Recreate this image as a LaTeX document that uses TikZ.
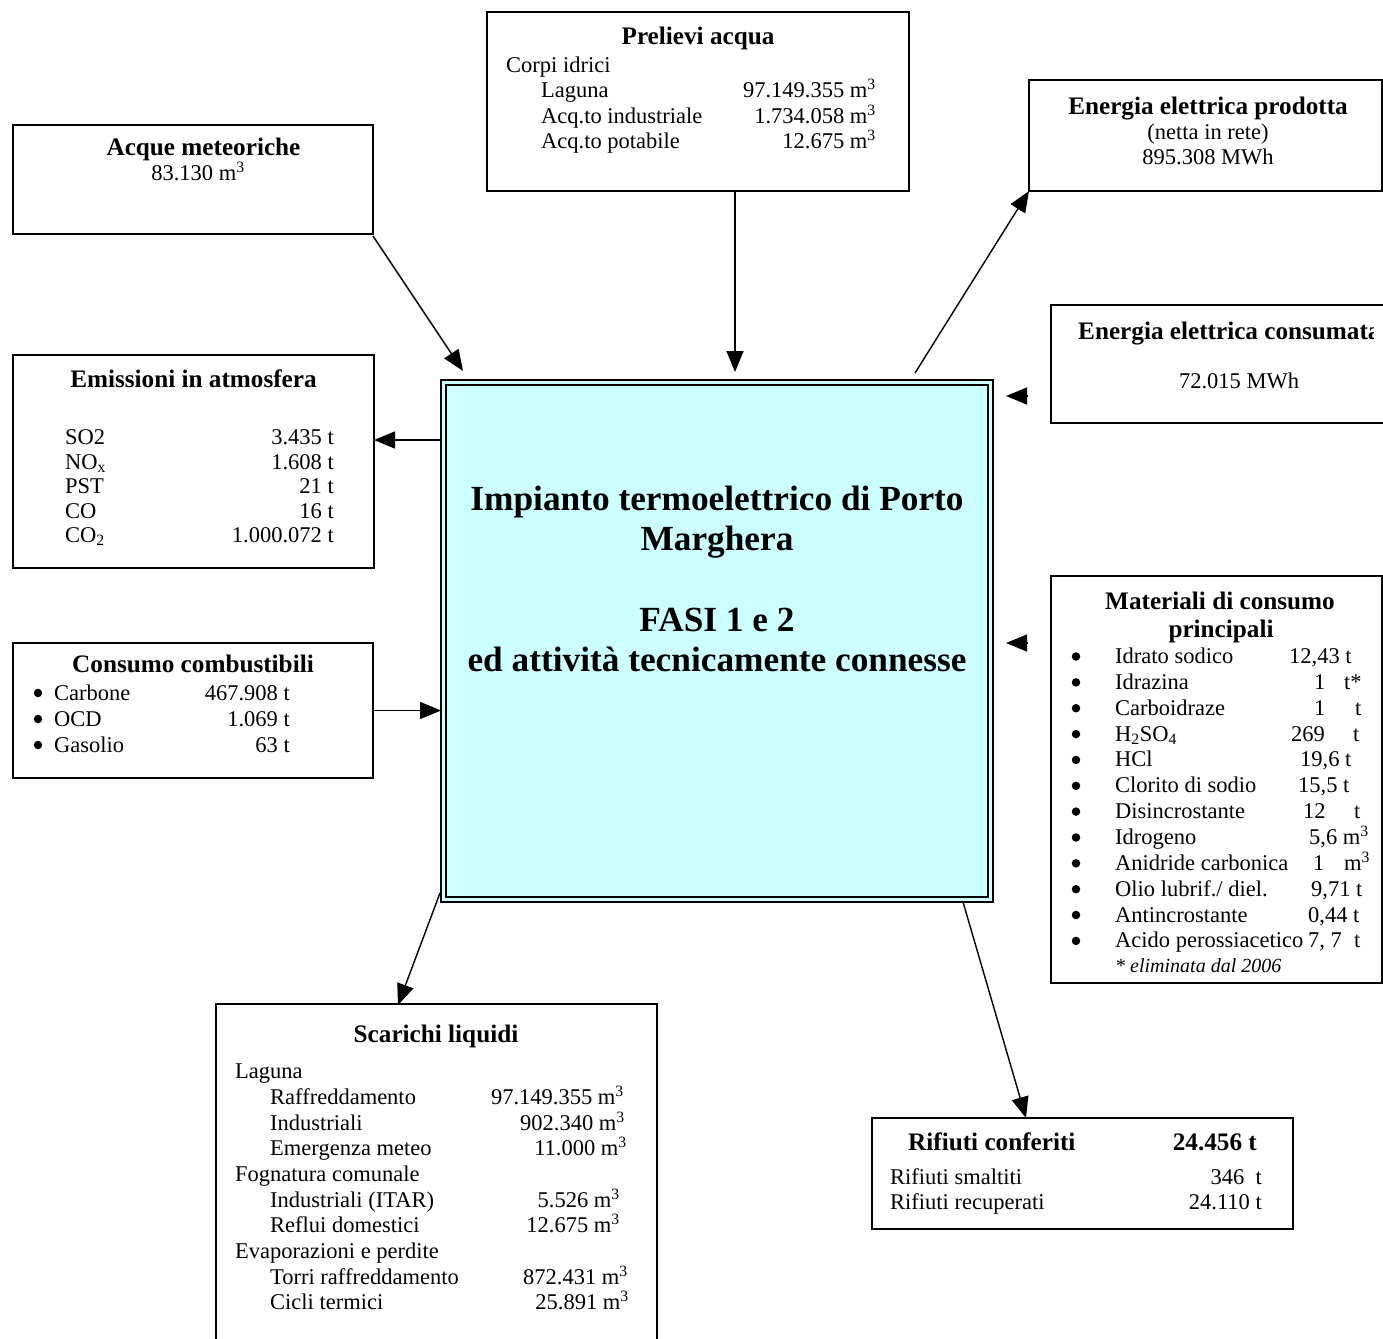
\documentclass[tikz,border=0pt]{standalone}
\usepackage{fontspec}
\setmainfont{Liberation Serif}
\usetikzlibrary{arrows.meta}
\definecolor{plantfill}{RGB}{204,255,255}
\tikzset{
 box/.style={draw, line width=1.5pt, inner sep=0pt, outer sep=0pt},
 arr/.style={line width=1.4pt, -{Triangle[length=21pt,width=17pt]}},
 tx/.style={anchor=base west, inner sep=0pt, font=\fontsize{22.5}{26}\selectfont},
 txr/.style={anchor=base east, inner sep=0pt, font=\fontsize{22.5}{26}\selectfont},
 txc/.style={anchor=base, inner sep=0pt, font=\fontsize{22.5}{26}\selectfont},
 ttl/.style={anchor=base, inner sep=0pt, font=\fontsize{25.2}{29}\selectfont\bfseries},
 ttlw/.style={anchor=base west, inner sep=0pt, font=\fontsize{25.2}{29}\selectfont\bfseries},
 ttle/.style={anchor=base east, inner sep=0pt, font=\fontsize{25.2}{29}\selectfont\bfseries},
 ctr/.style={anchor=base, inner sep=0pt, font=\fontsize{35.3}{40}\selectfont\bfseries},
 bul/.style={circle, fill=black, inner sep=0pt, minimum size=8.5pt},
}
\begin{document}
\begin{tikzpicture}[x=1pt,y=-1pt]
\useasboundingbox (0,0) rectangle (1383,1338);

% ---------- boxes ----------
\node[box, minimum width=360pt, minimum height=109pt] (acque) at (193,179.5) {};
\node[box, minimum width=422pt, minimum height=179pt] (prelievi) at (698,101.5) {};
\node[box, minimum width=353pt, minimum height=111pt] (prodotta) at (1205.5,135.5) {};
\node[box, minimum width=369pt, minimum height=118pt] (consumata) at (1235.5,364) {};
\node[box, minimum width=361pt, minimum height=213pt] (emissioni) at (193.5,461.5) {};
\node[box, minimum width=360pt, minimum height=135pt] (combust) at (193,710.5) {};
\node[box, minimum width=331pt, minimum height=407pt] (materiali) at (1216.5,779.5) {};
\node[box, minimum width=441pt, minimum height=356pt] (scarichi) at (436.5,1182) {};
\node[box, minimum width=421pt, minimum height=111pt] (rifiuti) at (1082.5,1173.5) {};

% ---------- central plant ----------
\node[draw, line width=1.2pt, fill=plantfill, inner sep=0pt, outer sep=0pt,
      minimum width=552pt, minimum height=522pt] (plant) at (717,641) {};
\draw[line width=2pt] ([shift={(5,5)}]plant.north west) rectangle ([shift={(-5,-5)}]plant.south east);
\node[ctr] (c1) at (717,510) {Impianto termoelettrico di Porto};
\node[ctr] (c2) at (717,550) {Marghera};
\node[ctr] (c3) at (717,631) {FASI 1 e 2};
\node[ctr] (c4) at (717,671) {ed attività tecnicamente connesse};

% ---------- Acque meteoriche ----------
\node[ttl] (aqT) at (203.5,155) {Acque meteoriche};
\node[txc] (aqV) at (198,180) {83.130 m\textsuperscript{3}};

% ---------- Prelievi acqua ----------
\node[ttl] (prT) at (698,45) {Prelievi acqua};
\node[tx] (pr0) at (506,72) {Corpi idrici};
\node[tx] (pr1) at (541,97.5) {Laguna};
\node[tx] (pr2) at (541,123) {Acq.to industriale};
\node[tx] (pr3) at (541,148.5) {Acq.to potabile};
\node[txr] (pv1) at (876,97.5) {97.149.355 m\textsuperscript{3}};
\node[txr] (pv2) at (876,123) {1.734.058 m\textsuperscript{3}};
\node[txr] (pv3) at (876,148.5) {12.675 m\textsuperscript{3}};

% ---------- Energia elettrica prodotta ----------
\node[ttl] (epT) at (1208,114) {Energia elettrica prodotta};
\node[txc] (ep1) at (1208,139.5) {(netta in rete)};
\node[txc] (ep2) at (1208,164.5) {895.308 MWh};

% ---------- Energia elettrica consumata ----------
\begin{scope}
\clip (1040,300) rectangle (1373,430);
\node[ttlw] (ecT) at (1078,339) {Energia elettrica consumata};
\end{scope}
\node[txc] (ecV) at (1239,388.5) {72.015 MWh};

% ---------- Emissioni ----------
\node[ttl] (emT) at (193.5,387) {Emissioni in atmosfera};
\node[tx] (em1) at (65,444.5) {SO2};
\node[tx] (em2) at (65,469) {NO\textsubscript{x}};
\node[tx] (em3) at (65,493.5) {PST};
\node[tx] (em4) at (65,518) {CO};
\node[tx] (em5) at (65,542.5) {CO\textsubscript{2}};
\node[txr] (ev1) at (334,444.5) {3.435 t};
\node[txr] (ev2) at (334,469) {1.608 t};
\node[txr] (ev3) at (334,493.5) {21 t};
\node[txr] (ev4) at (334,518) {16 t};
\node[txr] (ev5) at (334,542.5) {1.000.072 t};

% ---------- Consumo combustibili ----------
\node[ttl] (ccT) at (193,672) {Consumo combustibili};
\node[bul] (cb1) at (38,693) {};
\node[bul] (cb2) at (38,719) {};
\node[bul] (cb3) at (38,745) {};
\node[tx] (cl1) at (54,700) {Carbone};
\node[tx] (cl2) at (54,726) {OCD};
\node[tx] (cl3) at (54,752) {Gasolio};
\node[txr] (cv1) at (290,700) {467.908 t};
\node[txr] (cv2) at (290,726) {1.069 t};
\node[txr] (cv3) at (290,752) {63 t};

% ---------- Materiali di consumo ----------
\node[ttl] (maT1) at (1220,609) {Materiali di consumo};
\node[ttl] (maT2) at (1221,637) {principali};
\foreach \yy [count=\i] in {663.5,689.4,715.2,741.1,766.9,792.8,818.6,844.5,870.3,896.2,922,947.9}
  \node[bul] (mb\i) at (1076,\yy-7) {};
\node[tx] (ml1) at (1115,663.5) {Idrato sodico};
\node[tx] (ml2) at (1115,689.4) {Idrazina};
\node[tx] (ml3) at (1115,715.2) {Carboidraze};
\node[tx] (ml4) at (1115,741.1) {H\textsubscript{2}SO\textsubscript{4}};
\node[tx] (ml5) at (1115,766.9) {HCl};
\node[tx] (ml6) at (1115,792.8) {Clorito di sodio};
\node[tx] (ml7) at (1115,818.6) {Disincrostante};
\node[tx] (ml8) at (1115,844.5) {Idrogeno};
\node[tx] (ml9) at (1115,870.3) {Anidride carbonica};
\node[tx] (ml10) at (1115,896.2) {Olio lubrif./ diel.};
\node[tx] (ml11) at (1115,922) {Antincrostante};
\node[tx] (ml12) at (1115,947.9) {Acido perossiacetico};
\node[tx] (mv1) at (1289,663.5) {12,43 t};
\node[tx] (mv2) at (1314,689.4) {1};
\node[tx] (mu2) at (1344,689.4) {t*};
\node[tx] (mv3) at (1314,715.2) {1};
\node[tx] (mu3) at (1355,715.2) {t};
\node[tx] (mv4) at (1291,741.1) {269};
\node[tx] (mu4) at (1353,741.1) {t};
\node[tx] (mv5) at (1300,766.9) {19,6 t};
\node[tx] (mv6) at (1298,792.8) {15,5 t};
\node[tx] (mv7) at (1303,818.6) {12};
\node[tx] (mu7) at (1354,818.6) {t};
\node[tx] (mv8) at (1309,844.5) {5,6 m\textsuperscript{3}};
\node[tx] (mv9) at (1313,870.3) {1};
\node[tx] (mu9) at (1344,870.3) {m\textsuperscript{3}};
\node[tx] (mv10) at (1311,896.2) {9,71 t};
\node[tx] (mv11) at (1308,922) {0,44 t};
\node[tx] (mv12) at (1308,947.9) {7, 7};
\node[tx] (mu12) at (1354,947.9) {t};
\node[anchor=base west, inner sep=0pt, font=\fontsize{20}{23}\selectfont\itshape] (mnote) at (1115,972) {* eliminata dal 2006};

% ---------- Scarichi liquidi ----------
\node[ttl] (scT) at (436,1042) {Scarichi liquidi};
\node[tx] (sl1) at (235,1078.5) {Laguna};
\node[tx] (sl2) at (270,1104) {Raffreddamento};
\node[tx] (sl3) at (270,1130) {Industriali};
\node[tx] (sl4) at (270,1155.5) {Emergenza meteo};
\node[tx] (sl5) at (235,1181) {Fognatura comunale};
\node[tx] (sl6) at (270,1207) {Industriali (ITAR)};
\node[tx] (sl7) at (270,1232.5) {Reflui domestici};
\node[tx] (sl8) at (235,1258) {Evaporazioni e perdite};
\node[tx] (sl9) at (270,1284) {Torri raffreddamento};
\node[tx] (sl10) at (270,1309.5) {Cicli termici};
\node[txr] (sv2) at (624,1104) {97.149.355 m\textsuperscript{3}};
\node[txr] (sv3) at (625,1130) {902.340 m\textsuperscript{3}};
\node[txr] (sv4) at (627,1155.5) {11.000 m\textsuperscript{3}};
\node[txr] (sv6) at (620,1207) {5.526 m\textsuperscript{3}};
\node[txr] (sv7) at (620,1232.5) {12.675 m\textsuperscript{3}};
\node[txr] (sv9) at (628,1284) {872.431 m\textsuperscript{3}};
\node[txr] (sv10) at (629,1309.5) {25.891 m\textsuperscript{3}};

% ---------- Rifiuti ----------
\node[ttlw] (rfT) at (908,1150) {Rifiuti conferiti};
\node[ttle] (rfV) at (1257,1150) {24.456 t};
\node[tx] (rl1) at (890,1184.5) {Rifiuti smaltiti};
\node[tx] (rl2) at (890,1209.5) {Rifiuti recuperati};
\node[txr] (rv1) at (1262,1184.5) {346~~t};
\node[txr] (rv2) at (1262,1209.5) {24.110 t};

% ---------- connector ends ----------
\coordinate (aqEnd) at (463,371);
\coordinate (prEnd) at (735,372);
\coordinate (epStart) at (915,373);
\coordinate (emStart) at (441,440);
\coordinate (ecStart) at (1028,396);
\coordinate (ecEnd) at (1006,396);
\coordinate (maStart) at (1028,643);
\coordinate (maEnd) at (1006,643);
\coordinate (scStart) at (440,893);
\coordinate (scEnd) at (398,1005);
\coordinate (rfStart) at (963,902);
\coordinate (rfEnd) at (1026,1118);

% ---------- connectors ----------
\draw[arr] ([shift={(0,2)}]acque.south east) -- (aqEnd);
\draw[arr] (prelievi.south -| prEnd) -- (prEnd);
\draw[arr] (epStart) -- (prodotta.south west);
\draw[arr] (emStart) -- (emissioni.east |- emStart);
\draw[arr] (combust.east) -- (plant.west |- combust.east);
\draw[arr] (ecStart) -- (ecEnd);
\draw[arr] (maStart) -- (maEnd);
\draw[arr] (scStart) -- (scEnd);
\draw[arr] (rfStart) -- (rfEnd);
\end{tikzpicture}
\end{document}
